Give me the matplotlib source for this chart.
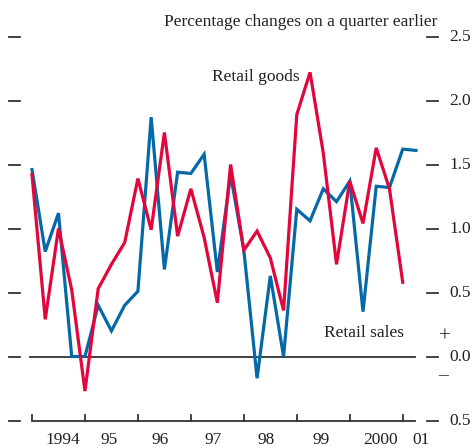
import numpy as np
import matplotlib.pyplot as plt

plt.rcParams['font.family'] = ['Liberation Serif', 'DejaVu Serif']

# quarterly data, 1994 Q1 onwards
retail_sales = [1.46, 0.82, 1.12, 0.0, 0.0, 0.40, 0.20, 0.40, 0.51, 1.87,
                0.68, 1.44, 1.43, 1.58, 0.66, 1.42, 0.83, -0.17, 0.63, 0.0,
                1.15, 1.06, 1.31, 1.21, 1.37, 0.35, 1.33, 1.32, 1.62, 1.61]
retail_goods = [1.42, 0.29, 1.00, 0.52, -0.27, 0.53, 0.72, 0.89, 1.39, 0.99,
                1.75, 0.94, 1.31, 0.93, 0.42, 1.50, 0.83, 0.98, 0.77, 0.36,
                1.89, 2.22, 1.59, 0.72, 1.37, 1.04, 1.63, 1.31, 0.58]
year_labels = ['1994', '95', '96', '97', '98', '99', '2000', '01']
y_ticks = [2.5, 2.0, 1.5, 1.0, 0.5, 0.0, -0.5]
y_tick_labels = ['2.5', '2.0', '1.5', '1.0', '0.5', '0.0', '0.5']

blue = '#0569a8'
red = '#e2063d'
dark = '#333333'
fs = 12.5

fig = plt.figure(figsize=(4.75, 4.48), dpi=100)
ax = fig.add_axes([0, 0, 1, 1])
# pixel -> data: x = (px - 32) / 13.24, y = (356.5 - py) / 128
ax.set_xlim(-32 / 13.24, (475 - 32) / 13.24)
ax.set_ylim((356.5 - 448) / 128, 356.5 / 128)
ax.axis('off')

def px(x):
    return (x - 32) / 13.24

def py(y):
    return (356.5 - y) / 128

ax.plot(np.arange(len(retail_sales)), retail_sales, color=blue, lw=2.3,
        solid_joinstyle='miter', zorder=3)
ax.plot(np.arange(len(retail_goods)), retail_goods, color=red, lw=2.3,
        solid_joinstyle='miter', zorder=4)

# zero line and bottom axis
ax.plot([px(30), px(415)], [0, 0], color=dark, lw=1.3, zorder=2)
ax.plot([px(33), px(415)], [-0.5, -0.5], color=dark, lw=1.3)
for k in range(8):
    ax.plot([4 * k, 4 * k], [-0.5, -0.5 + 6 / 128], color=dark, lw=1.3)

# side dashes and right labels
for v, lab in zip(y_ticks, y_tick_labels):
    ax.plot([px(9), px(20)], [v, v], color=dark, lw=1.3)
    ax.plot([px(427), px(438)], [v, v], color=dark, lw=1.3)
    ax.text(px(449), v, lab, ha='left', va='center', fontsize=fs, color='#222222')

ax.text(px(445), py(337), '+', ha='center', va='center',
        fontsize=15, color='#222222')
ax.text(px(443), py(376), '\u2013', ha='center', va='center',
        fontsize=14, color='#222222')

# year labels
label_pos = [2.3, 5.8, 9.7, 13.7, 17.7, 21.8, 26.3, 29.4]
for pos, lab in zip(label_pos, year_labels):
    ax.text(pos, py(440), lab, ha='center', va='center',
            fontsize=fs, color='#222222')

ax.text(px(437), py(22), 'Percentage changes on a quarter earlier',
        ha='right', va='center', fontsize=fs, color='#222222')
ax.text(px(300), py(77), 'Retail goods', ha='right', va='center',
        fontsize=fs, color='#222222')
ax.text(px(404), py(333), 'Retail sales', ha='right', va='center',
        fontsize=fs, color='#222222')

fig.savefig('out.png', dpi=100)
